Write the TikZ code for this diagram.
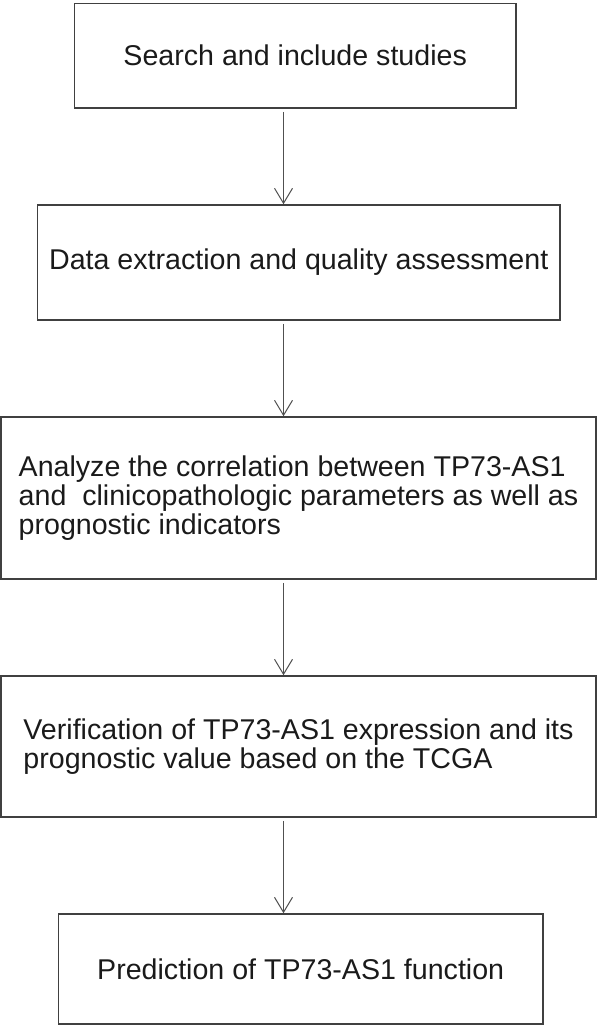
\documentclass[tikz,border=0pt]{standalone}
\usepackage{fontspec}
\setmainfont{Liberation Sans}
\usetikzlibrary{arrows.meta,positioning}
\definecolor{boxgray}{HTML}{404040}
\definecolor{arrgray}{HTML}{505050}
\definecolor{txtgray}{HTML}{1A1A1A}
\newcommand{\flowfont}{\fontsize{14.3pt}{14.4pt}\selectfont}
\tikzset{
  stepbox/.style={draw=boxgray, line width=0.75pt, inner sep=0pt, align=center, text=txtgray, font=\flowfont},
  longbox/.style={stepbox, align=left, minimum width=297.5pt},
  flowarr/.style={draw=arrgray, line width=0.5pt, -{Straight Barb[length=7.5pt, width=9pt]}, shorten <=1.5pt},
}
\begin{document}
\begin{tikzpicture}[x=0.5pt, y=-0.5pt]
  \useasboundingbox (0,0) rectangle (602,1026);

  % --- boxes ---
  \node[stepbox, minimum width=220.85pt, minimum height=52.35pt] (search) at (295.2,55.7) {Search and include studies};
  \node[stepbox, minimum width=261.3pt, minimum height=57.5pt] (extract) at (298.7,262.5) {Data extraction and quality assessment};
  \node[longbox, minimum height=81pt] (correl) at (298.5,498) {Analyze the correlation between TP73-AS1\\
    and\ \ clinicopathologic parameters as well as\\
    prognostic indicators};
  \node[longbox, minimum height=70.5pt] (verify) at (298.5,746.5) {Verification of TP73-AS1 expression and its\\
    prognostic value based on the TCGA};
  \node[stepbox, minimum width=242.3pt, minimum height=55pt] (predict) at (300.7,969) {Prediction of TP73-AS1 function};

  % --- arrows ---
  \coordinate (ax) at (283.5,0);
  \draw[flowarr] (search.south -| ax) -- (extract.north -| ax);
  \draw[flowarr] (extract.south -| ax) -- (correl.north -| ax);
  \draw[flowarr] (correl.south -| ax) -- (verify.north -| ax);
  \draw[flowarr] (verify.south -| ax) -- (predict.north -| ax);
\end{tikzpicture}
\end{document}
